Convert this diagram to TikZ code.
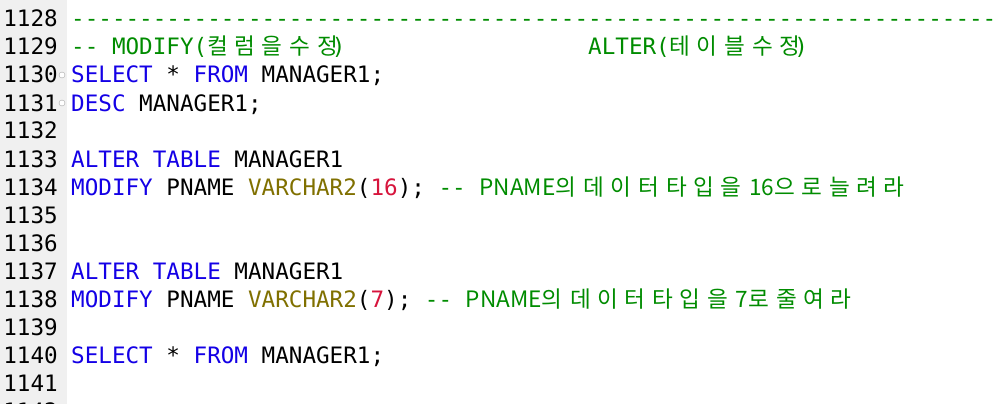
\documentclass[tikz,border=0pt]{standalone}
\usepackage{fontspec}
\setmonofont{DejaVu Sans Mono}
\newfontfamily\kr{Noto Sans CJK KR}
\newfontfamily\krw[LetterSpace=28]{Noto Sans CJK KR}
\definecolor{kw}{RGB}{20,0,230}
\definecolor{ty}{RGB}{128,112,0}
\definecolor{nu}{RGB}{215,20,60}
\definecolor{cm}{RGB}{0,140,0}
\definecolor{gut}{RGB}{240,240,240}
\tikzset{x=1pt,y=-1pt,
 code/.style={anchor=base west,inner sep=0pt,font=\ttfamily\fontsize{22.6}{28}\selectfont},
 num/.style={anchor=base east,inner sep=0pt,font=\ttfamily\fontsize{22.6}{28}\selectfont},
 fold/.style={circle,draw=gray!70,fill=white,inner sep=0pt,minimum size=6pt}}
\newcommand\Kw[1]{\textcolor{kw}{#1}}
\newcommand\Cm[1]{\textcolor{cm}{#1}}
\newcommand\Hg[1]{{\krw #1\kern-6pt}}
\newcommand\Lt[1]{{\kr #1}}
\begin{document}
\begin{tikzpicture}
\useasboundingbox (0,0) rectangle (997,404);
\fill[gut] (0,0) rectangle (67,404);
\fill[white] (67,0) rectangle (997,404);
\foreach \n [count=\i from 0] in {1127,1128,1129,1130,1131,1132,1133,1134,1135,1136,1137,1138,1139,1140,1141,1142}
  \node[num] (n\n) at (58,{-1+28*\i}) {\n};
\node[fold] (f1) at (62,75) {};
\node[fold] (f2) at (62,103) {};
\node[code] (l1128) at (71,27) {\Cm{--------------------------------------------------------------------}};
\node[code] (l1129) at (71,55) {\Cm{-- MODIFY(\Hg{컬럼을} \Hg{수정})}};
\node[code] (l1129b) at (588,55) {\Cm{ALTER(\Hg{테이블} \Hg{수정})}};
\node[code] (l1130) at (71,83) {\Kw{SELECT} * \Kw{FROM} MANAGER1;};
\node[code] (l1131) at (71,111) {\Kw{DESC} MANAGER1;};
\node[code] (l1133) at (71,167) {\Kw{ALTER} \Kw{TABLE} MANAGER1};
\node[code] (l1134) at (71,195) {\Kw{MODIFY} PNAME \textcolor{ty}{VARCHAR2}(\textcolor{nu}{16}); \Cm{-- \Lt{PNAME}\Hg{의} \Hg{데이터} \Hg{타입을} \Lt{16}\Hg{으로} \Hg{늘려라}}};
\node[code] (l1137) at (71,279) {\Kw{ALTER} \Kw{TABLE} MANAGER1};
\node[code] (l1138) at (71,307) {\Kw{MODIFY} PNAME \textcolor{ty}{VARCHAR2}(\textcolor{nu}{7}); \Cm{-- \Lt{PNAME}\Hg{의} \Hg{데이터} \Hg{타입을} \Lt{7}\Hg{로} \Hg{줄여라}}};
\node[code] (l1140) at (71,363) {\Kw{SELECT} * \Kw{FROM} MANAGER1;};
\end{tikzpicture}
\end{document}
